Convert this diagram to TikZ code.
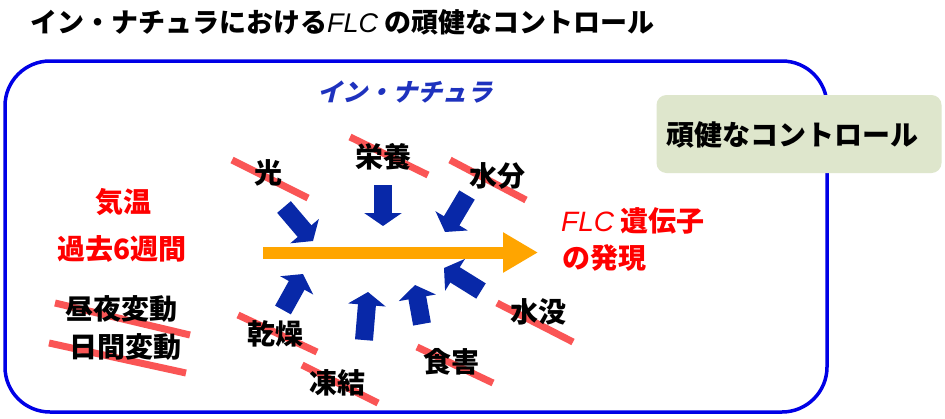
\documentclass[tikz,border=0pt]{standalone}
\usepackage{fontspec}
\usetikzlibrary{arrows.meta}
\newfontfamily\jp{Noto Sans CJK JP}
\newfontfamily\jpsl{Noto Sans CJK JP}[FakeSlant=0.25]
\newfontfamily\lat{Liberation Sans}
\definecolor{frameblue}{RGB}{0,0,230}
\definecolor{arrowblue}{RGB}{8,40,168}
\definecolor{natblue}{RGB}{30,50,190}
\definecolor{flcred}{RGB}{255,0,0}
\definecolor{strikered}{RGB}{250,85,85}
\definecolor{boxgreen}{RGB}{222,230,204}
\definecolor{flow}{RGB}{255,165,0}
\tikzset{
  lbl/.style={font=\jp\bfseries\fontsize{28}{30}\selectfont, inner sep=0pt},
  redlbl/.style={lbl, text=flcred},
  strike/.style={draw=strikered, line width=7pt},
  barrow/.style={draw=arrowblue, line width=18pt, -{Triangle[width=37pt,length=13pt]}},
}
\begin{document}
\begin{tikzpicture}[x=1pt,y=-1pt]
\useasboundingbox[fill=white] (0,0) rectangle (945,418);
% title
\node[anchor=west, inner sep=0pt, font=\jp\bfseries\fontsize{27}{29}\selectfont] (title) at (30,22)
  {イン・ナチュラにおける{\lat\itshape\mdseries FLC} の頑健なコントロール};
% frame
\draw[frameblue, line width=3.5pt, rounded corners=45pt] (5,61) rectangle (827,412);
% green box
\node[fill=boxgreen, rounded corners=10pt, minimum width=285pt, minimum height=78pt, inner sep=0pt] (robust) at (799,134) {};
\node[lbl] (robusttxt) at (792,135) {頑健なコントロール};
% in natura label
\node[inner sep=0pt, text=natblue, font=\jpsl\bfseries\fontsize{25}{27}\selectfont] (natura) at (405,92) {イン・ナチュラ};
% strikes
\coordinate (s1a) at (232,160); \coordinate (s1b) at (308,198);
\coordinate (s2a) at (350,137); \coordinate (s2b) at (428,175);
\coordinate (s3a) at (450,160); \coordinate (s3b) at (526,200);
\coordinate (s4a) at (238,315); \coordinate (s4b) at (317,352);
\coordinate (s5a) at (302,365); \coordinate (s5b) at (378,403);
\coordinate (s6a) at (417,347); \coordinate (s6b) at (493,383);
\coordinate (s7a) at (497,303); \coordinate (s7b) at (573,342);
\coordinate (s8a) at (55,303);  \coordinate (s8b) at (190,335);
\coordinate (s9a) at (49,343);  \coordinate (s9b) at (186,373);
\foreach \s in {1,...,9} {\draw[strike] (s\s a) -- (s\s b);}
% labels
\node[lbl] (hikari) at (268,173) {光};
\node[lbl] (eiyo) at (383,157) {栄養};
\node[lbl] (suibun) at (497,176) {水分};
\node[lbl] (kanso) at (275,334) {乾燥};
\node[lbl] (toketsu) at (337,383) {凍結};
\node[lbl] (shokugai) at (451,362) {食害};
\node[lbl] (suibotsu) at (538,312) {水没};
\node[redlbl] (kion) at (123,202) {気温};
\node[redlbl] (kako) at (122,249) {過去6週間};
\node[lbl] (chuya) at (121,309) {昼夜変動};
\node[lbl] (nikan) at (125,347) {日間変動};
\node[redlbl, anchor=west] (flc) at (561,221) {{\lat\itshape\mdseries FLC} 遺伝子};
\node[redlbl, anchor=west] (hatsugen) at (562,258) {の発現};
% main flow arrow
\coordinate (fa) at (263,252.5); \coordinate (fb) at (538,252.5);
\draw[flow, line width=12pt, -{Triangle[width=38pt,length=35pt]}] (fa) -- (fb);
% blue arrows
\coordinate (a1a) at (284,207); \coordinate (a1b) at (313,241);
\coordinate (a2a) at (383,185); \coordinate (a2b) at (383,226);
\coordinate (a3a) at (467,195); \coordinate (a3b) at (445,232);
\coordinate (a4a) at (283,310); \coordinate (a4b) at (303,274);
\coordinate (a5a) at (364,340); \coordinate (a5b) at (368,292);
\coordinate (a6a) at (422,324); \coordinate (a6b) at (415,285);
\coordinate (a7a) at (481,291); \coordinate (a7b) at (444,268);
\foreach \a in {1,...,7} {\draw[barrow] (a\a a) -- (a\a b);}
\end{tikzpicture}
\end{document}
